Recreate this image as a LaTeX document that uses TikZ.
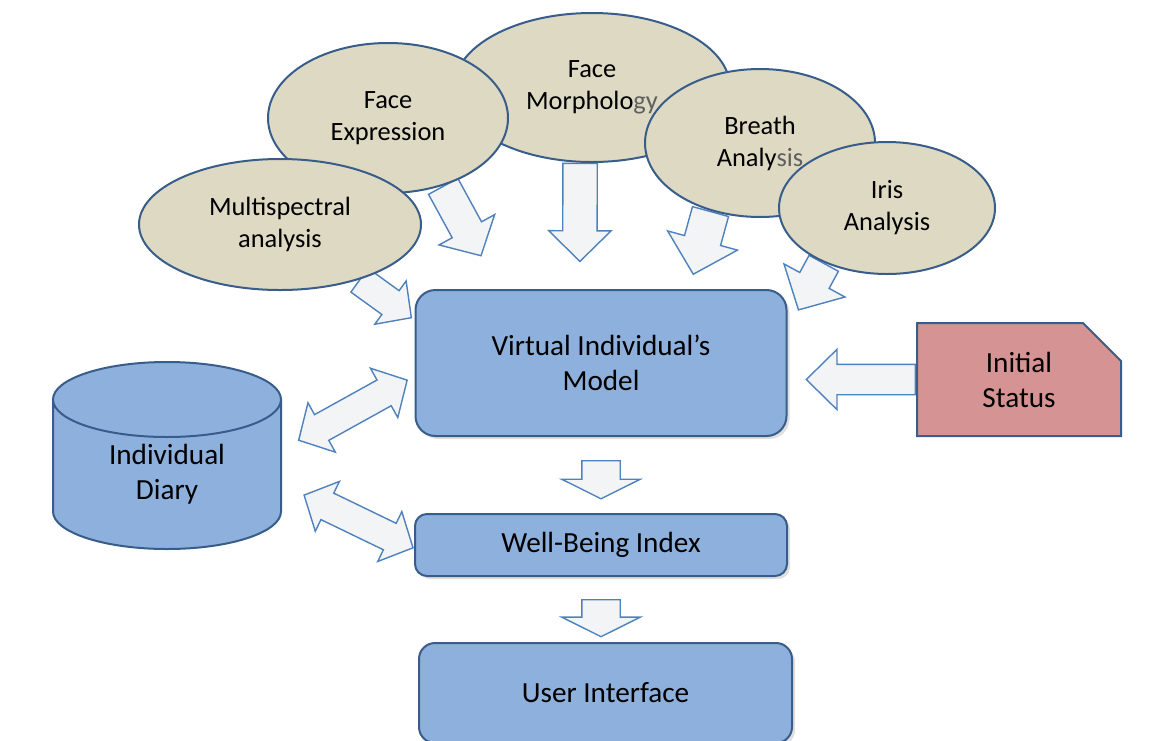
\documentclass[tikz,border=0pt]{standalone}
\usepackage{fontspec}
\setmainfont{Carlito}
\usetikzlibrary{shapes.geometric, shapes.arrows, shapes.misc, shadows}
\definecolor{sensortan}{RGB}{221,217,195}
\definecolor{edgeblue}{RGB}{56,93,138}
\definecolor{boxblue}{RGB}{142,176,220}
\definecolor{statusred}{RGB}{213,148,147}
\definecolor{arrowfill}{RGB}{242,244,245}
\definecolor{arrowblue}{RGB}{79,129,189}
\definecolor{hiddengrey}{RGB}{95,95,95}
\pgfdeclarelayer{background}
\pgfsetlayers{background,main}

\begin{document}
\begin{tikzpicture}[x=0.5pt, y=-0.5pt,
  boxtext/.style={font=\fontsize{14.6}{17.5}\selectfont, align=center},
  sensor/.style={ellipse, draw=edgeblue, line width=1pt, fill=sensortan, inner sep=0pt, align=center, font=\fontsize{13.2}{16}\selectfont},
  block/.style={rectangle, draw=edgeblue, line width=1pt, fill=boxblue, boxtext, drop shadow={shadow xshift=1.5pt, shadow yshift=-1.5pt, opacity=.25}},
  fatarrow/.style={single arrow, draw=arrowblue, line width=.7pt, fill=arrowfill, inner xsep=0pt, inner ysep=8pt, single arrow head extend=8pt, single arrow tip angle=92, sloped, allow upside down},
  twoway/.style={double arrow, draw=arrowblue, line width=.7pt, fill=arrowfill, inner xsep=0pt, inner ysep=7pt, double arrow head extend=6.75pt, double arrow tip angle=94, sloped, allow upside down, minimum height=62pt}]
  \useasboundingbox (0,0) rectangle (1171,740);

  % measurement sources
  \node[sensor, minimum width=138pt, minimum height=74.5pt] (morph) at (592,87.5) {Face\\Morpholo{\color{hiddengrey}gy}};
  \node[sensor, minimum width=120pt, minimum height=75pt] (expr) at (388,118) {Face\\Expression};
  \node[sensor, minimum width=115pt, minimum height=74pt] (breath) at (760,143) {Breath\\Analy{\color{hiddengrey}sis}};
  \node[sensor, minimum width=141pt, minimum height=65.5pt] (multi) at (280,224.5) {Multispectral\\analysis};
  \node[sensor, minimum width=108pt, minimum height=66pt] (iris) at (887,208) {Iris\\Analysis};

  % model, diary and outputs
  \node[block, rounded corners=10pt, minimum width=185.5pt, minimum height=73pt] (vim) at (601,363) {Virtual Individual’s\\Model};
  \node[block, rounded corners=6pt, minimum width=186pt, minimum height=31pt] (wbi) at (601,545) {Well-Being Index};
  \node[block, rounded corners=8pt, minimum width=186.5pt, minimum height=50pt] (ui) at (605.5,693) {User Interface};
  \node[cylinder, shape border rotate=90, inner sep=5pt, aspect=3.75, draw=edgeblue, line width=1pt, fill=boxblue,
    minimum width=114pt, minimum height=93.5pt, anchor=shape center,
    label={[boxtext, yshift=4pt]center:Individual\\Diary}] (diary) at (167,455.5) {};
  \node[chamfered rectangle, chamfered rectangle corners=north east, chamfered rectangle xsep=9.5pt, chamfered rectangle ysep=9.5pt,
    draw=edgeblue, line width=1pt, fill=statusred, boxtext, minimum width=102pt, minimum height=56.5pt] (init) at (1019,379.5) {Initial\\Status};

  \begin{pgfonlayer}{background}
  \path (multi.-35) -- (vim.167) node[fatarrow, pos=0, anchor=tail, minimum height=32pt, inner ysep=7pt, single arrow head extend=6pt] {};
  \path (expr.-51) -- (vim.144.5) node[fatarrow, pos=0, anchor=tail, minimum height=39.5pt, single arrow head extend=7.5pt, single arrow tip angle=94] {};
  \path (morph.-99) -- (vim.106) node[fatarrow, pos=0, anchor=tail, minimum height=49pt, inner ysep=8.25pt, single arrow head extend=7pt, single arrow tip angle=91] {};
  \path (breath.-126) -- (vim.40) node[fatarrow, pos=0, anchor=tail, minimum height=32.5pt, inner ysep=9pt, single arrow head extend=8.75pt] {};
  \path (iris.-139) -- (vim.10) node[fatarrow, pos=0, anchor=tail, minimum height=26.5pt, single arrow head extend=9pt] {};
  \path (init.west) -- (init.west -| vim.east) node[fatarrow, pos=0, anchor=tail, minimum height=54.5pt, inner ysep=7.25pt, single arrow head extend=7.5pt, single arrow tip angle=89] {};
  \path (vim.south) -- (wbi.north) node[fatarrow, midway, minimum height=19pt, inner ysep=9.25pt, single arrow head extend=10pt, single arrow tip angle=127] {};
  \path (wbi.south) -- (wbi.south |- ui.north) node[fatarrow, pos=.56, minimum height=18.5pt, inner ysep=9.25pt, single arrow head extend=10pt, single arrow tip angle=127] {};
  \path (diary.16) -- (vim.184) node[twoway, pos=.535] {};
  \path (diary.-1.5) -- (wbi.181) node[twoway, pos=.58, minimum height=60.5pt, double arrow head extend=6.5pt] {};
  \end{pgfonlayer}
\end{tikzpicture}
\end{document}
